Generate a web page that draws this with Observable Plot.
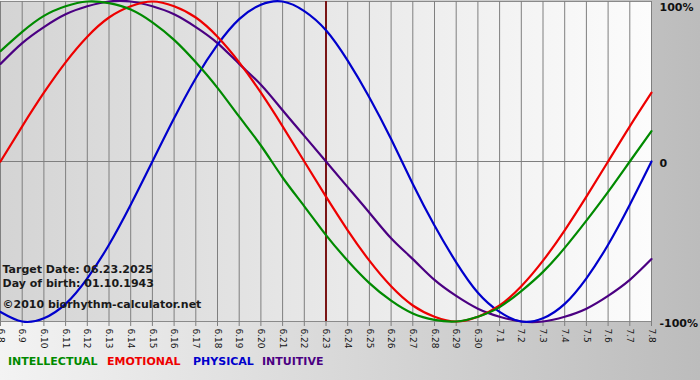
<!DOCTYPE html>
<html><head><meta charset="utf-8">
<script src="https://cdn.jsdelivr.net/npm/d3@7"></script>
<script src="https://cdn.jsdelivr.net/npm/@observablehq/plot@0.6"></script>
<style>
body{margin:0;}
#wrap{position:relative;width:700px;height:380px;background:linear-gradient(to right,#f3f3f3,#bcbcbc);font-family:"DejaVu Sans",Verdana,sans-serif;overflow:hidden;}
#chart{position:absolute;left:0;top:0;}
#legend{position:absolute;top:355px;left:0;width:700px;height:16px;font-weight:bold;font-size:11px;}
#legend span{position:absolute;white-space:nowrap;top:0;}
</style></head><body>
<div id="wrap"><div id="chart"></div><div id="legend"></div></div>
<script>
const dayLabels = ["6.8","6.9","6.10","6.11","6.12","6.13","6.14","6.15","6.16","6.17","6.18","6.19","6.20","6.21","6.22","6.23","6.24","6.25","6.26","6.27","6.28","6.29","6.30","7.1","7.2","7.3","7.4","7.5","7.6","7.7","7.8"];
const targetLabel = "6.23";
const intellectual = [0.69,0.81,0.91,0.97,1.00,0.99,0.95,0.87,0.76,0.62,0.46,0.28,0.10,-0.10,-0.28,-0.46,-0.62,-0.76,-0.87,-0.95,-0.99,-1.00,-0.97,-0.91,-0.81,-0.69,-0.54,-0.37,-0.19,0.00,0.19];
const emotional = [0.00,0.22,0.43,0.62,0.78,0.90,0.97,1.00,0.97,0.90,0.78,0.62,0.43,0.22,0.00,-0.22,-0.43,-0.62,-0.78,-0.90,-0.97,-1.00,-0.97,-0.90,-0.78,-0.62,-0.43,-0.22,0.00,0.22,0.43];
const physical = [-0.94,-1.00,-0.98,-0.89,-0.73,-0.52,-0.27,0.00,0.27,0.52,0.73,0.89,0.98,1.00,0.94,0.82,0.63,0.40,0.14,-0.14,-0.40,-0.63,-0.82,-0.94,-1.00,-0.98,-0.89,-0.73,-0.52,-0.27,0.00];
const intuitive = [0.61,0.74,0.84,0.92,0.97,1.00,1.00,0.97,0.92,0.84,0.74,0.61,0.48,0.32,0.16,0.00,-0.16,-0.32,-0.48,-0.61,-0.74,-0.84,-0.92,-0.97,-1.00,-1.00,-0.97,-0.92,-0.84,-0.74,-0.61];
const seriesNames = ["INTELLECTUAL","EMOTIONAL","PHYSICAL","INTUITIVE"];
const seriesColors = ["#008a00","#ee0000","#0000cc","#4b0082"];
const yTicks = [1, 0, -1];
const yTickLabels = ["100%", "0", "-100%"];
const infoLines = ["Target Date: 06.23.2025", "Day of birth: 01.10.1943", "©2010 biorhythm-calculator.net"];

const seriesValues = [intellectual, emotional, physical, intuitive];
const days = dayLabels.map((d, i) => i);
const targetIndex = dayLabels.indexOf(targetLabel);
const rows = [];
seriesValues.forEach((vals, s) => vals.forEach((v, i) => rows.push({day: i, value: v, series: seriesNames[s]})));

const lineMarks = [3, 2, 1, 0].map(s =>
  Plot.line(rows.filter(r => r.series === seriesNames[s]), {x: "day", y: "value", stroke: seriesColors[s], strokeWidth: 2.2, curve: "natural"})
);

const plot = Plot.plot({
  width: 700, height: 350,
  marginLeft: 0, marginRight: 49, marginTop: 1, marginBottom: 29,
  style: {background: "transparent", fontFamily: "'DejaVu Sans', Verdana, sans-serif", overflow: "visible"},
  x: {domain: [0, 30], axis: null},
  y: {domain: [-1, 1], axis: null},
  marks: [
    Plot.frame({fill: "url(#plotbg)", stroke: "#8a8a8a"}),
    Plot.ruleX(days, {stroke: "#7f7f7f", strokeWidth: 1}),
    Plot.ruleY([0], {stroke: "#7f7f7f", strokeWidth: 1}),
    Plot.ruleX([targetIndex], {stroke: "#7a1515", strokeWidth: 2}),
    Plot.axisX({ticks: days, tickFormat: i => dayLabels[i], tickRotate: 90, tickSize: 5, tickPadding: 2, stroke: "#7f7f7f", fill: "#151515", fontSize: 9, label: null}),
    ...lineMarks,
    Plot.text(yTicks.filter(d => d === 1), {x: () => 30, y: d => d, text: d => yTickLabels[yTicks.indexOf(d)], dx: 8, dy: 6, textAnchor: "start", fontWeight: "bold", fontSize: 11, fill: "#111"}),
    Plot.text(yTicks.filter(d => d !== 1), {x: () => 30, y: d => d, text: d => yTickLabels[yTicks.indexOf(d)], dx: 8, dy: 1.5, textAnchor: "start", fontWeight: "bold", fontSize: 11, fill: "#111"}),
    Plot.text([infoLines[0]], {frameAnchor: "bottom-left", dx: 2, dy: -49, textAnchor: "start", fontWeight: "bold", fontSize: 11, fill: "#1a1a1a"}),
    Plot.text([infoLines[1]], {frameAnchor: "bottom-left", dx: 2, dy: -34.5, textAnchor: "start", fontWeight: "bold", fontSize: 11, fill: "#1a1a1a"}),
    Plot.text([infoLines[2]], {frameAnchor: "bottom-left", dx: 2, dy: -14, textAnchor: "start", fontWeight: "bold", fontSize: 11, fill: "#1a1a1a"})
  ]
});
d3.select(plot).insert("defs", ":first-child").html('<linearGradient id="plotbg" x1="0" x2="1" y1="0" y2="0"><stop offset="0" stop-color="#d4d4d4"/><stop offset="1" stop-color="#fcfcfc"/></linearGradient>');
document.getElementById("chart").appendChild(plot);

const legendLeft = [8, 107, 193, 262];
const legend = d3.select("#legend");
seriesNames.forEach((n, i) => legend.append("span").style("left", legendLeft[i] + "px").style("color", seriesColors[i]).text(n));
</script>
</body></html>
